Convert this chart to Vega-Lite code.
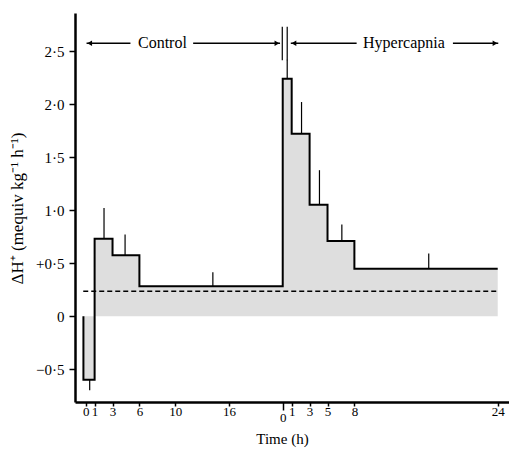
{
  "$schema": "https://vega.github.io/schema/vega-lite/v6.json",
  "width": 434,
  "height": 389,
  "autosize": {"type": "none"},
  "padding": {"left": 75, "top": 13, "right": 0, "bottom": 49},
  "background": "white",
  "config": {
    "view": {"stroke": null},
    "font": "Liberation Serif",
    "axis": {"labelFont": "Liberation Serif", "titleFont": "Liberation Serif", "labelColor": "black", "titleColor": "black", "domainColor": "black", "tickColor": "black", "grid": false, "titleFontWeight": "normal", "labelOverlap": false, "labelFlush": false}
  },
  "resolve": {"axis": {"x": "independent"}},
  "datasets": {
    "steps": [
      {"t": -0.25, "v": 0},
      {"t": -0.25, "v": -0.6},
      {"t": 1, "v": 0.73},
      {"t": 3, "v": 0.575},
      {"t": 6, "v": 0.283},
      {"t": 22, "v": 2.24},
      {"t": 23, "v": 1.72},
      {"t": 25, "v": 1.05},
      {"t": 27, "v": 0.71},
      {"t": 30, "v": 0.446},
      {"t": 46, "v": 0.446}
    ],
    "errors": [
      {"t": 0.45, "lo": -0.6, "hi": -0.7},
      {"t": 2.05, "lo": 0.73, "hi": 1.02},
      {"t": 4.4, "lo": 0.575, "hi": 0.77},
      {"t": 14.2, "lo": 0.283, "hi": 0.415},
      {"t": 22.5, "lo": 2.24, "hi": 2.42},
      {"t": 24.1, "lo": 1.72, "hi": 2.02},
      {"t": 26.1, "lo": 1.05, "hi": 1.377},
      {"t": 28.6, "lo": 0.71, "hi": 0.865},
      {"t": 38.3, "lo": 0.446, "hi": 0.59}
    ],
    "reference": [
      {"t0": -0.27, "t1": 46, "v": 0.236}
    ],
    "arrows": [
      {"t0": 0.1, "t1": 5.0, "v": 2.575},
      {"t0": 12.0, "t1": 21.7, "v": 2.575},
      {"t0": 22.9, "t1": 30.25, "v": 2.575},
      {"t0": 41.0, "t1": 46.06, "v": 2.575}
    ],
    "heads": [
      {"t": 0.45, "v": 2.575, "dir": "triangle-left"},
      {"t": 21.35, "v": 2.575, "dir": "triangle-right"},
      {"t": 23.25, "v": 2.575, "dir": "triangle-left"},
      {"t": 45.7, "v": 2.575, "dir": "triangle-right"}
    ],
    "breaks": [
      {"t": 21.95, "lo": 2.415, "hi": 2.73},
      {"t": 22.5, "lo": 2.415, "hi": 2.73}
    ],
    "labels": [
      {"t": 8.57, "v": 2.575, "text": "Control"},
      {"t": 35.53, "v": 2.575, "text": "Hypercapnia"}
    ]
  },
  "layer": [
    {
      "data": {"name": "steps"},
      "mark": {"type": "area", "interpolate": "step-after", "color": "#dedede"},
      "encoding": {
        "x": {
          "field": "t", "type": "quantitative",
          "scale": {"domain": [-1.19, 47.26], "nice": false, "zero": false},
          "axis": {
            "orient": "bottom",
            "values": [0, 1, 3, 6, 10, 16, 23, 25, 27, 30, 46],
            "labelExpr": "datum.value >= 22 ? format(datum.value - 22, 'd') : format(datum.value, 'd')",
            "title": "Time (h)",
            "titleFontSize": 15,
            "labelFontSize": 13,
            "domainWidth": 2.5,
            "tickWidth": 1.5,
            "tickSize": 4,
            "labelPadding": -1,
            "labelOverlap": false,
            "titleX": 207,
            "titleY": 36,
            "titleBaseline": "middle"
          }
        },
        "y": {
          "field": "v", "type": "quantitative",
          "scale": {"domain": [-0.81, 2.86], "nice": false, "zero": false},
          "axis": {
            "values": [-0.5, 0, 0.5, 1, 1.5, 2, 2.5],
            "labelExpr": "datum.value == 0 ? '0' : datum.value == 0.5 ? '+0·5' : datum.value < 0 ? '−0·5' : replace(format(datum.value, '.1f'), '.', '·')",
            "title": "ΔH⁺ (mequiv kg⁻¹ h⁻¹)",
            "titleFontSize": 17,
            "labelFontSize": 15,
            "domainWidth": 2.5,
            "tickWidth": 1.5,
            "tickSize": 6,
            "labelPadding": 5,
            "labelOverlap": false,
            "titleX": -58,
            "titleY": 195,
            "titleBaseline": "middle"
          }
        },
        "y2": {"datum": 0},
        "order": {"value": null}
      }
    },
    {
      "data": {"name": "reference"},
      "mark": {"type": "rule", "color": "black", "strokeWidth": 1.5, "strokeDash": [5, 3]},
      "encoding": {
        "x": {"field": "t0", "type": "quantitative", "axis": null},
        "x2": {"field": "t1"},
        "y": {"field": "v", "type": "quantitative"}
      }
    },
    {
      "mark": {"type": "rule", "color": "black", "strokeWidth": 2},
      "encoding": {"y": {"datum": 0}}
    },
    {
      "data": {"name": "steps"},
      "mark": {"type": "line", "interpolate": "step-after", "color": "black", "strokeWidth": 2},
      "encoding": {
        "x": {"field": "t", "type": "quantitative", "axis": null},
        "y": {"field": "v", "type": "quantitative"},
        "order": {"value": null}
      }
    },
    {
      "data": {"name": "errors"},
      "mark": {"type": "rule", "color": "black", "strokeWidth": 1.2},
      "encoding": {
        "x": {"field": "t", "type": "quantitative", "axis": null},
        "y": {"field": "lo", "type": "quantitative"},
        "y2": {"field": "hi"}
      }
    },
    {
      "data": {"name": "breaks"},
      "mark": {"type": "rule", "color": "black", "strokeWidth": 1.2},
      "encoding": {
        "x": {
          "field": "t", "type": "quantitative",
          "axis": {
            "orient": "bottom",
            "values": [22],
            "labelExpr": "'0'",
            "title": null,
            "domain": false,
            "labelFontSize": 13,
            "tickWidth": 1.5,
            "tickSize": 8,
            "labelPadding": 1,
            "labelOverlap": false
          }
        },
        "y": {"field": "lo", "type": "quantitative"},
        "y2": {"field": "hi"}
      }
    },
    {
      "data": {"name": "arrows"},
      "mark": {"type": "rule", "color": "black", "strokeWidth": 1.5},
      "encoding": {
        "x": {"field": "t0", "type": "quantitative", "axis": null},
        "x2": {"field": "t1"},
        "y": {"field": "v", "type": "quantitative"}
      }
    },
    {
      "data": {"name": "heads"},
      "mark": {"type": "point", "filled": true, "color": "black", "size": 30, "opacity": 1},
      "encoding": {
        "x": {"field": "t", "type": "quantitative", "axis": null},
        "y": {"field": "v", "type": "quantitative"},
        "shape": {"field": "dir", "type": "nominal", "scale": null}
      }
    },
    {
      "data": {"name": "labels"},
      "mark": {"type": "text", "font": "Liberation Serif", "fontSize": 16, "color": "black", "baseline": "middle", "align": "center"},
      "encoding": {
        "x": {"field": "t", "type": "quantitative", "axis": null},
        "y": {"field": "v", "type": "quantitative"},
        "text": {"field": "text"}
      }
    }
  ]
}
